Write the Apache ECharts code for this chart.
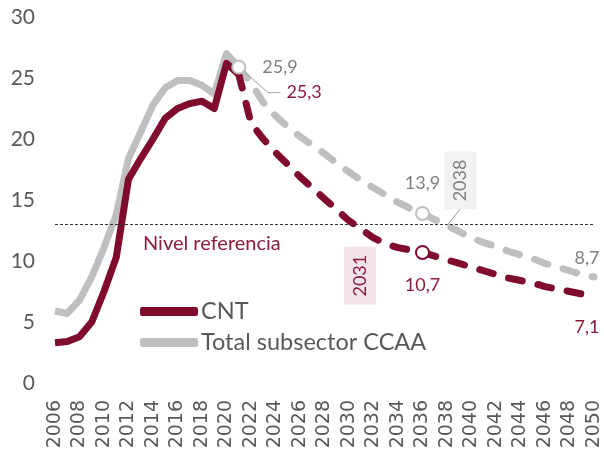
<!DOCTYPE html>
<html>
<head>
<meta charset="utf-8">
<title>CNT vs Total subsector CCAA</title>
<style>
  html, body { margin: 0; padding: 0; background: #fff; }
  #container { width: 604px; height: 458px; }
</style>
</head>
<body>
<div id="container"></div>
<script src="https://cdn.jsdelivr.net/npm/echarts@6/dist/echarts.min.js"></script>
<script type="text/javascript">
  // años observados y proyectados
  var histYears = [2006, 2007, 2008, 2009, 2010, 2011, 2012, 2013, 2014, 2015, 2016, 2017, 2018, 2019, 2020, 2021];
  var projYears = [2021, 2022, 2023, 2024, 2025, 2026, 2027, 2028, 2029, 2030, 2031, 2032, 2033, 2034, 2035,
                   2036, 2037, 2038, 2039, 2040, 2041, 2042, 2043, 2044, 2045, 2046, 2047, 2048, 2049, 2050];

  var cntHist = [3.3, 3.4, 3.8, 5.0, 7.5, 10.3, 16.7, 18.4, 20.0, 21.7, 22.5, 22.9, 23.1, 22.5, 26.2, 25.3];
  var totHist = [5.9, 5.7, 6.8, 8.7, 11.1, 13.8, 18.4, 20.6, 22.8, 24.2, 24.8, 24.8, 24.4, 23.7, 27.0, 25.9];

  var cntProj = [25.3, 21.3, 20.0, 18.9, 17.9, 16.9, 16.0, 15.1, 14.2, 13.3, 12.6, 11.9, 11.4, 11.1, 10.9,
                 10.7, 10.4, 10.1, 9.8, 9.5, 9.2, 8.9, 8.6, 8.4, 8.2, 7.9, 7.7, 7.5, 7.3, 7.1];
  var totProj = [25.9, 24.6, 23.0, 21.9, 21.0, 20.2, 19.5, 18.8, 18.0, 17.3, 16.6, 16.0, 15.4, 14.8, 14.3,
                 13.9, 13.4, 12.9, 12.4, 11.9, 11.5, 11.2, 10.8, 10.5, 10.2, 9.8, 9.5, 9.2, 8.9, 8.7];

  var refLevel = 13;
  var yTicks = [0, 5, 10, 15, 20, 25, 30];

  var RED = '#7F0B2D';
  var RED_TXT = '#8C1C3A';
  var GRAY = '#BFBFBF';
  var GRAY_TXT = '#7F7F7F';
  var FONT = 'Lato';

  function pairs(xs, ys) {
    return xs.map(function (x, i) { return [x, ys[i]]; });
  }

  var dom = document.getElementById('container');
  var myChart = echarts.init(dom, null, { renderer: 'canvas' });

  var dashed = [14, 16];

  var option = {
    animation: false,
    backgroundColor: '#fff',
    textStyle: { fontFamily: FONT },
    grid: { left: 55, right: 10, top: 17, bottom: 75 },
    legend: {
      data: ['CNT', 'Total subsector CCAA'],
      orient: 'vertical',
      left: 140,
      top: 299,
      padding: 0,
      itemGap: 6,
      itemWidth: 58,
      itemHeight: 9,
      icon: 'roundRect',
      textStyle: { fontFamily: FONT, fontSize: 23.5, color: '#595959', lineHeight: 25, padding: [0, 0, 0, -2] }
    },
    xAxis: {
      type: 'value',
      min: 2006,
      max: 2050,
      interval: 2,
      axisLine: { show: false },
      axisTick: { show: false },
      splitLine: { show: false },
      axisLabel: {
        rotate: 90,
        margin: 17,
        fontFamily: 'DejaVu Sans',
        fontSize: 19,
        color: '#595959',
        formatter: function (v) { return String(v); }
      }
    },
    yAxis: {
      type: 'value',
      min: yTicks[0],
      max: yTicks[yTicks.length - 1],
      interval: 5,
      axisLine: { show: false },
      axisTick: { show: false },
      splitLine: { show: false },
      axisLabel: { fontFamily: FONT, fontSize: 21, color: '#595959', margin: 20 }
    },
    graphic: [{
      type: 'text',
      left: 143,
      top: 234,
      style: { text: 'Nivel referencia', fill: RED_TXT, font: '20px Lato' }
    }],
    series: [
      {
        name: 'Total subsector CCAA',
        type: 'line',
        data: pairs(histYears, totHist),
        showSymbol: false,
        color: GRAY,
        lineStyle: { width: 7, color: GRAY, join: 'round' },
        z: 2
      },
      {
        name: 'Total subsector CCAA',
        type: 'line',
        data: pairs(projYears, totProj),
        showSymbol: false,
        color: GRAY,
        lineStyle: { width: 7, color: GRAY, type: dashed, cap: 'round' },
        z: 2,
        markLine: {
          silent: true,
          symbol: 'none',
          label: { show: false },
          data: [
            { yAxis: refLevel, lineStyle: { color: '#333', width: 1, type: [3, 2] } },
            [{ coord: [2038, 12.9] }, { coord: [2039.1, 14.3] }]
          ],
          lineStyle: { color: '#999', width: 1, type: 'solid' }
        },
        markPoint: {
          silent: true,
          data: [
            {
              coord: [2021, 25.9], symbol: 'circle', symbolSize: 13,
              itemStyle: { color: '#fff', borderColor: GRAY, borderWidth: 2 },
              label: { show: true, position: 'right', distance: 16, formatter: '25,9', color: GRAY_TXT, fontSize: 18 }
            },
            {
              coord: [2036, 13.9], symbol: 'circle', symbolSize: 13,
              itemStyle: { color: '#fff', borderColor: GRAY, borderWidth: 2 },
              label: { show: true, position: 'top', distance: 14, formatter: '13,9', color: GRAY_TXT, fontSize: 18 }
            },
            {
              coord: [2050, 8.7], symbol: 'circle', symbolSize: 0,
              label: { show: true, position: 'top', distance: 10, offset: [-7, 0], formatter: '8,7', color: GRAY_TXT, fontSize: 18 }
            },
            {
              coord: [2039.1, 16.6], symbol: 'circle', symbolSize: 0,
              label: {
                show: true, position: 'inside', rotate: 90, formatter: '2038', color: GRAY_TXT, fontSize: 18,
                backgroundColor: '#F2F2F2', padding: [7, 8]
              }
            }
          ]
        }
      },
      {
        name: 'CNT',
        type: 'line',
        data: pairs(histYears, cntHist),
        showSymbol: false,
        color: RED,
        lineStyle: { width: 7, color: RED, join: 'round' },
        z: 3
      },
      {
        name: 'CNT',
        type: 'line',
        data: pairs(projYears, cntProj),
        showSymbol: false,
        color: RED,
        lineStyle: { width: 7, color: RED, type: dashed, cap: 'round' },
        z: 3,
        markPoint: {
          silent: true,
          data: [
            {
              coord: [2036, 10.7], symbol: 'circle', symbolSize: 13,
              itemStyle: { color: '#fff', borderColor: RED, borderWidth: 2 },
              label: { show: true, position: 'bottom', distance: 16, formatter: '10,7', color: RED_TXT, fontSize: 18 }
            },
            {
              coord: [2050, 7.1], symbol: 'circle', symbolSize: 0,
              label: { show: true, position: 'bottom', distance: 22, offset: [-7, 0], formatter: '7,1', color: RED_TXT, fontSize: 18 }
            },
            {
              coord: [2024.4, 23.8], symbol: 'circle', symbolSize: 0,
              label: { show: true, position: 'right', distance: 6, formatter: '25,3', color: RED_TXT, fontSize: 18 }
            },
            {
              coord: [2030.9, 8.8], symbol: 'circle', symbolSize: 0,
              label: {
                show: true, position: 'inside', rotate: 90, formatter: '2031', color: RED_TXT, fontSize: 18,
                backgroundColor: '#F2E4E8', padding: [7, 8]
              }
            }
          ]
        }
      },
      {
        // línea guía de la etiqueta 25,3
        name: 'guia',
        type: 'line',
        data: [[2021, 25.9], [2023.4, 23.8], [2024.4, 23.8]],
        showSymbol: false,
        silent: true,
        lineStyle: { width: 1, color: '#A6A6A6' },
        z: 4
      }
    ]
  };

  myChart.setOption(option);
</script>
</body>
</html>
